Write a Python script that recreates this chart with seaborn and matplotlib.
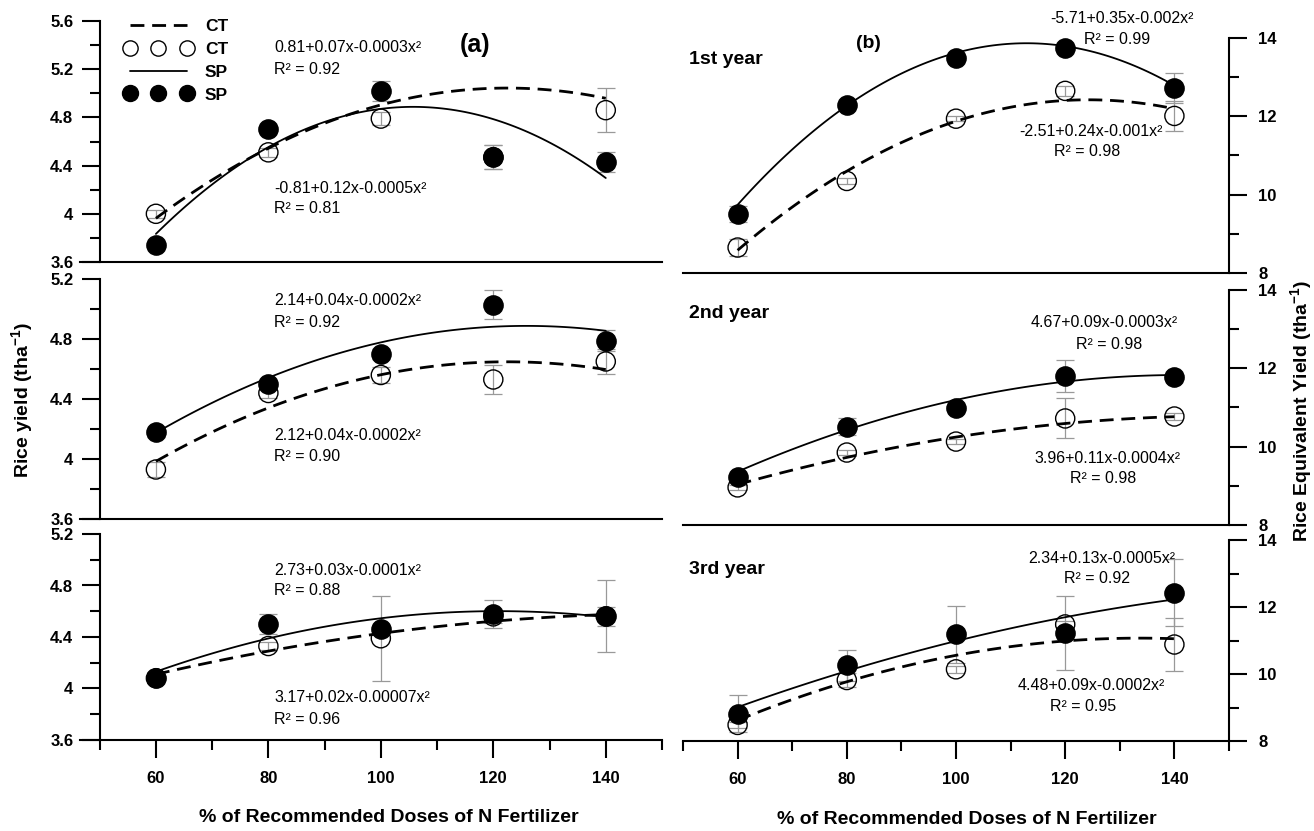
import numpy as np
import seaborn as sns
import matplotlib.pyplot as plt
from matplotlib.lines import Line2D
from matplotlib.ticker import FixedLocator

sns.set_style('ticks')
plt.rcParams['font.family'] = ['Liberation Sans', 'DejaVu Sans']
plt.rcParams['font.weight'] = 'bold'
plt.rcParams['mathtext.fontset'] = 'custom'
plt.rcParams['mathtext.rm'] = 'Liberation Sans'
plt.rcParams['mathtext.bf'] = 'Liberation Sans:bold'
plt.rcParams['axes.edgecolor'] = 'black'
plt.rcParams['xtick.color'] = 'black'
plt.rcParams['ytick.color'] = 'black'
plt.rcParams['text.color'] = 'black'

doses = [60, 80, 100, 120, 140]

# (a) rice yield (t/ha), three seasons: CT / SP means, errors, fitted curve readings
ct_a1 = [4.00, 4.51, 4.79, 4.47, 4.86]
ct_a1_err = [0.035, 0.035, 0.055, 0.10, 0.18]
sp_a1 = [3.74, 4.70, 5.02, 4.47, 4.43]
sp_a1_err = [0.02, 0.03, 0.08, 0.10, 0.085]
ct_a1_fit = [3.96, 4.55, 4.90, 5.04, 4.96]
sp_a1_fit = [3.83, 4.56, 4.87, 4.78, 4.30]

ct_a2 = [3.93, 4.44, 4.56, 4.53, 4.65]
ct_a2_err = [0.05, 0.03, 0.055, 0.10, 0.08]
sp_a2 = [4.18, 4.50, 4.70, 5.03, 4.79]
sp_a2_err = [0.03, 0.03, 0.03, 0.10, 0.07]
ct_a2_fit = [3.98, 4.35, 4.56, 4.64, 4.60]
sp_a2_fit = [4.18, 4.53, 4.78, 4.89, 4.85]

ct_a3 = [4.08, 4.33, 4.39, 4.56, 4.56]
ct_a3_err = [0.02, 0.03, 0.33, 0.05, 0.28]
sp_a3 = [4.08, 4.50, 4.46, 4.58, 4.56]
sp_a3_err = [0.02, 0.08, 0.03, 0.11, 0.075]
ct_a3_fit = [4.11, 4.29, 4.43, 4.52, 4.575]
sp_a3_fit = [4.13, 4.39, 4.545, 4.60, 4.555]

# (b) rice equivalent yield (t/ha), 1st-3rd year
ct_b1 = [8.65, 10.35, 11.94, 12.65, 12.01]
ct_b1_err = [0.22, 0.07, 0.07, 0.12, 0.39]
sp_b1 = [9.50, 12.30, 13.50, 13.74, 12.73]
sp_b1_err = [0.20, 0.05, 0.05, 0.05, 0.38]
ct_b1_fit = [8.60, 10.55, 11.90, 12.42, 12.18]
sp_b1_fit = [9.73, 12.30, 13.60, 13.79, 12.79]

ct_b2 = [8.96, 9.85, 10.13, 10.72, 10.77]
ct_b2_err = [0.07, 0.07, 0.07, 0.51, 0.08]
sp_b2 = [9.23, 10.51, 10.98, 11.81, 11.77]
sp_b2_err = [0.05, 0.21, 0.05, 0.41, 0.05]
ct_b2_fit = [9.05, 9.69, 10.25, 10.62, 10.75]
sp_b2_fit = [9.36, 10.43, 11.19, 11.66, 11.83]

ct_b3 = [8.48, 9.82, 10.14, 11.48, 10.88]
ct_b3_err = [0.10, 0.20, 0.10, 0.10, 0.78]
sp_b3 = [8.82, 10.26, 11.18, 11.23, 12.43]
sp_b3_err = [0.55, 0.46, 0.85, 1.10, 1.00]
ct_b3_fit = [8.63, 9.74, 10.56, 11.01, 11.04]
sp_b3_fit = [9.02, 10.06, 11.00, 11.70, 12.22]

# equation annotations
eq_a = [('0.81+0.07x-0.0003x²', 'R² = 0.92', '-0.81+0.12x-0.0005x²', 'R² = 0.81'),
        ('2.14+0.04x-0.0002x²', 'R² = 0.92', '2.12+0.04x-0.0002x²', 'R² = 0.90'),
        ('2.73+0.03x-0.0001x²', 'R² = 0.88', '3.17+0.02x-0.00007x²', 'R² = 0.96')]
eq_b = [('-5.71+0.35x-0.002x²', 'R² = 0.99', '-2.51+0.24x-0.001x²', 'R² = 0.98'),
        ('4.67+0.09x-0.0003x²', 'R² = 0.98', '3.96+0.11x-0.0004x²', 'R² = 0.98'),
        ('2.34+0.13x-0.0005x²', 'R² = 0.92', '4.48+0.09x-0.0002x²', 'R² = 0.95')]
year_labels = ['1st year', '2nd year', '3rd year']

yt_a_top = [3.6, 4.0, 4.4, 4.8, 5.2, 5.6]
yt_a = [3.6, 4.0, 4.4, 4.8, 5.2]
yt_b = [8, 10, 12, 14]

W, H = 1314, 831
fig = plt.figure(figsize=(W / 100, H / 100), dpi=100)


def px_rect(x0, y0, x1, y1):
    return [x0 / W, 1 - y1 / H, (x1 - x0) / W, (y1 - y0) / H]


ax_a = [fig.add_axes(px_rect(80, 21, 662, 262)),
        fig.add_axes(px_rect(80, 279, 662, 519)),
        fig.add_axes(px_rect(80, 534, 662, 740))]
ax_b = [fig.add_axes(px_rect(683, 38, 1229, 273)),
        fig.add_axes(px_rect(683, 290, 1229, 525)),
        fig.add_axes(px_rect(683, 540, 1229, 741))]


def draw_panel(ax, ct, ct_err, sp, sp_err, ct_fit, sp_fit):
    ax.errorbar(doses, ct, yerr=ct_err, fmt='none', ecolor='#999999',
                elinewidth=0.9, capsize=6.5, capthick=0.9, zorder=1)
    ax.errorbar(doses, sp, yerr=sp_err, fmt='none', ecolor='#999999',
                elinewidth=0.9, capsize=6.5, capthick=0.9, zorder=1)
    sns.scatterplot(x=doses, y=ct, ax=ax, marker='o', s=190, zorder=3)
    pts = ax.collections[-1]
    pts.set_facecolor('none')
    pts.set_edgecolor('black')
    pts.set_linewidth(1.0)
    sns.scatterplot(x=doses, y=sp, ax=ax, marker='o', s=190, zorder=4)
    pts = ax.collections[-1]
    pts.set_facecolor('black')
    pts.set_edgecolor('black')
    sns.regplot(x=doses, y=ct_fit, order=2, ci=None, scatter=False, truncate=True, ax=ax,
                line_kws=dict(color='black', lw=2.0, ls=(0, (5, 2.8)), zorder=5))
    sns.regplot(x=doses, y=sp_fit, order=2, ci=None, scatter=False, truncate=True, ax=ax,
                line_kws=dict(color='black', lw=1.3, zorder=5))
    ax.set_xlabel('')
    ax.set_ylabel('')


def style_common(ax, bottom_row):
    for s in ax.spines.values():
        s.set_linewidth(1.5)
    ax.tick_params(axis='y', which='major', length=13, width=1.5, labelsize=12)
    ax.tick_params(axis='y', which='minor', length=7, width=1.5)
    if bottom_row:
        ax.xaxis.set_major_locator(FixedLocator(doses))
        ax.xaxis.set_minor_locator(FixedLocator([50, 70, 90, 110, 130, 150]))
        ax.tick_params(axis='x', which='major', length=13, width=1.5, labelsize=12, pad=9)
        ax.tick_params(axis='x', which='minor', length=7, width=1.5)
    else:
        ax.tick_params(axis='x', which='both', length=0, labelbottom=False)
    ax.grid(False)
    ax.set_facecolor('none')


def style_left(ax, yt, bottom_row):
    ax.set_xlim(46.5, 150)
    ax.set_ylim(yt[0], yt[-1])
    ax.spines['left'].set_position(('data', 50))
    ax.spines['right'].set_visible(False)
    ax.spines['top'].set_visible(False)
    ax.yaxis.set_major_locator(FixedLocator(yt))
    ax.yaxis.set_minor_locator(FixedLocator([v + 0.2 for v in yt[:-1]]))
    ax.set_yticklabels([f'{v:g}' for v in yt])
    ax.tick_params(axis='y', pad=6)
    style_common(ax, bottom_row)


def style_right(ax, bottom_row):
    ax.set_xlim(50, 150)
    ax.set_ylim(8, 14)
    ax.spines['left'].set_visible(False)
    ax.spines['top'].set_visible(False)
    ax.spines['right'].set_visible(True)
    ax.yaxis.tick_right()
    ax.yaxis.set_major_locator(FixedLocator(yt_b))
    ax.yaxis.set_minor_locator(FixedLocator([9, 11, 13]))
    ax.tick_params(axis='y', pad=8)
    style_common(ax, bottom_row)


data_a = [(ct_a1, ct_a1_err, sp_a1, sp_a1_err, ct_a1_fit, sp_a1_fit),
          (ct_a2, ct_a2_err, sp_a2, sp_a2_err, ct_a2_fit, sp_a2_fit),
          (ct_a3, ct_a3_err, sp_a3, sp_a3_err, ct_a3_fit, sp_a3_fit)]
data_b = [(ct_b1, ct_b1_err, sp_b1, sp_b1_err, ct_b1_fit, sp_b1_fit),
          (ct_b2, ct_b2_err, sp_b2, sp_b2_err, ct_b2_fit, sp_b2_fit),
          (ct_b3, ct_b3_err, sp_b3, sp_b3_err, ct_b3_fit, sp_b3_fit)]

for i, ax in enumerate(ax_a):
    draw_panel(ax, *data_a[i])
    style_left(ax, yt_a_top if i == 0 else yt_a, i == 2)
for i, ax in enumerate(ax_b):
    draw_panel(ax, *data_b[i])
    style_right(ax, i == 2)

# equation text positions (data coords)
eq_a_pos = [(5.38, 5.20, 4.21, 4.04), (5.06, 4.91, 4.16, 4.02), (4.92, 4.76, 3.93, 3.76)]
for ax, eqs, ys in zip(ax_a, eq_a, eq_a_pos):
    for t, y in zip(eqs, ys):
        ax.text(81.0, y, t, fontsize=11.5, fontweight='normal', ha='left', va='center')

eq_b_pos = [((130.4, 14.51), (129.5, 13.97), (124.7, 11.60), (124.0, 11.09)),
            ((127.1, 13.16), (128.0, 12.62), (127.8, 9.71), (126.9, 9.20)),
            ((126.7, 13.46), (125.8, 12.84), (124.7, 9.67), (123.3, 9.04))]
for ax, eqs, ps in zip(ax_b, eq_b, eq_b_pos):
    for t, (x, y) in zip(eqs, ps):
        ax.text(x, y, t, fontsize=11.5, fontweight='normal', ha='center', va='center', clip_on=False)

year_y = [13.44, 13.41, 13.13]
for ax, lab, y in zip(ax_b, year_labels, year_y):
    ax.text(51.1, y, lab, fontsize=14, fontweight='bold', ha='left', va='center')

ax_a[0].text(116.7, 5.40, '(a)', fontsize=18, fontweight='bold', ha='center', va='center')
ax_b[0].text(83.9, 13.87, '(b)', fontsize=14, fontweight='bold', ha='center', va='center')

# legend
handles = [Line2D([], [], color='black', lw=2.0, ls=(0, (5, 2.8))),
           Line2D([], [], ls='none', marker='o', ms=11, mfc='none', mec='black', mew=1.0),
           Line2D([], [], color='black', lw=1.3),
           Line2D([], [], ls='none', marker='o', ms=11.5, mfc='black', mec='black')]
legend_labels = ['CT', 'CT', 'SP', 'SP']
ax_a[0].legend(handles, legend_labels, loc='upper left', bbox_to_anchor=(125 / W, 1 - 19 / H),
               bbox_transform=fig.transFigure, frameon=False, numpoints=3,
               handlelength=3.85, handletextpad=0.75, labelspacing=0.44,
               borderpad=0, borderaxespad=0, prop={'weight': 'bold', 'size': 12.5})

fig.text(23 / W, 1 - 400 / H, r'Rice yield (tha$^{\mathbf{-1}}$)', rotation=90,
         ha='center', va='center', fontsize=14, fontweight='bold')
fig.text(1302 / W, 1 - 411 / H, r'Rice Equivalent Yield (tha$^{\mathbf{-1}}$)', rotation=90,
         ha='center', va='center', fontsize=14, fontweight='bold')
fig.text(389 / W, 1 - 817 / H, '% of Recommended Doses of N Fertilizer',
         ha='center', va='center', fontsize=14, fontweight='bold')
fig.text(967 / W, 1 - 820 / H, '% of Recommended Doses of N Fertilizer',
         ha='center', va='center', fontsize=14, fontweight='bold')

fig.savefig('out.png', dpi=100, facecolor='white')
